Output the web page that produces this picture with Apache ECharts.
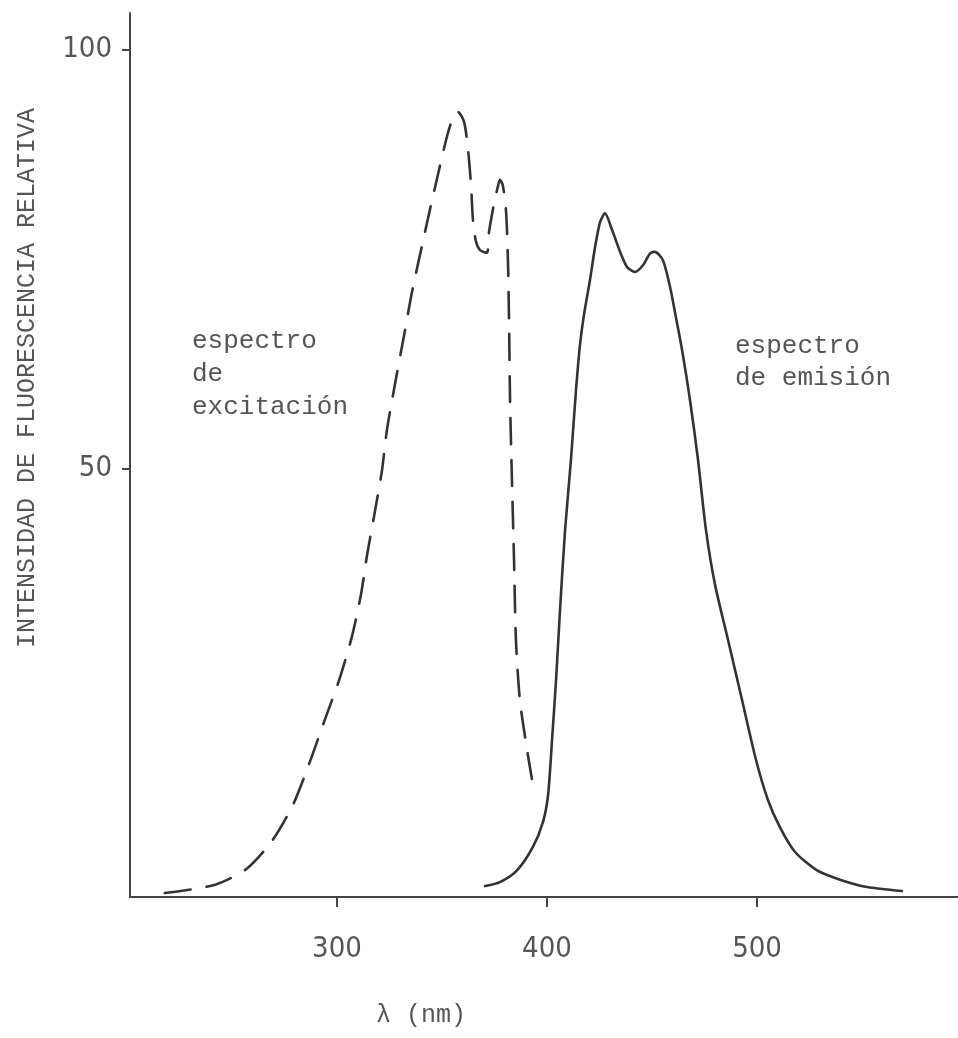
<!DOCTYPE html>
<html>
<head>
<meta charset="utf-8">
<script src="https://cdn.jsdelivr.net/npm/echarts@6/dist/echarts.min.js"></script>
<style>
  html, body { margin: 0; padding: 0; background: #ffffff; }
  #chart { width: 958px; height: 1038px; }
</style>
</head>
<body>
<div id="chart"></div>
<script>
// Excitation spectrum (dashed curve): wavelength in nm, relative intensity
const excitationWl = [218, 242, 257, 269, 279, 286.7, 293.8, 301, 307.1, 311.4, 314.3, 318.1, 321.4, 323.8, 327.6, 331.9, 335.7, 340, 344.3, 348.6, 352.4, 354.8, 357.6, 360.5, 362.4, 363.8, 364.8, 366.2, 368.1, 371.4, 372.4, 374.8, 376.7, 377.6, 379, 380.5, 381.4, 381.9, 382.4, 383.3, 384.3, 385.2, 387.1, 390.5, 393.3];
const excitationVal = [-0.6, 0.4, 2.3, 5.6, 9.9, 14.8, 19.8, 24.8, 30.0, 35.0, 39.7, 45.0, 49.8, 54.7, 60.1, 65.9, 71.1, 76.1, 81.0, 85.7, 89.7, 91.6, 92.6, 91.4, 88.1, 83.9, 79.5, 77.1, 76.1, 75.8, 78.3, 81.7, 83.8, 84.5, 83.8, 80.7, 74.9, 67.8, 58.2, 48.7, 39.1, 29.6, 22.4, 16.5, 12.3];

// Emission spectrum (solid curve)
const emissionWl = [370.5, 377.6, 385.7, 393.3, 398.1, 400.5, 402.4, 404.3, 406.2, 408.6, 411.4, 413.8, 415.7, 417.6, 420.5, 422.9, 425.2, 427.6, 431, 434.8, 438.1, 441.9, 445.7, 449, 451.4, 455.2, 458.6, 461, 464.3, 468.1, 471.9, 475.7, 480, 486.2, 492.9, 499.5, 505.2, 511, 518.1, 528.6, 539.5, 552.4, 569];
const emissionVal = [0.24, 0.7, 2.1, 4.9, 7.9, 11.1, 17.7, 24.8, 33.2, 42.7, 51.1, 59.4, 64.8, 68.4, 72.6, 76.5, 79.4, 80.5, 78.5, 75.9, 74.1, 73.5, 74.3, 75.7, 75.9, 74.9, 71.7, 68.6, 64.2, 58.2, 51.1, 42.7, 36.2, 29.6, 22.4, 15.3, 10.5, 7.2, 4.3, 2.1, 1.0, 0.12, -0.36];

// Axis tick values
const xTicks = [300, 400, 500];
const yTicks = [50, 100];

const yTitle = 'INTENSIDAD DE FLUORESCENCIA RELATIVA';
const xTitle = 'λ (nm)';
const excitationLabel = 'espectro\nde\nexcitación';
const emissionLabel = 'espectro\nde emisión';

const pair = (xs, ys) => xs.map((x, i) => [x, ys[i]]);

const inkColor = '#333333';
const axisColor = '#444444';
const tickFont = "'Liberation Sans Narrow', 'Arial Narrow', 'DejaVu Sans Condensed', 'Liberation Sans', sans-serif";
const typeFont = "'Courier New', 'Liberation Mono', Cousine, monospace";

const chart = echarts.init(document.getElementById('chart'), null, { renderer: 'canvas' });

chart.setOption({
  backgroundColor: '#ffffff',
  animation: false,
  grid: { left: 130, right: 0, top: 13, bottom: 141, containLabel: false },
  xAxis: {
    type: 'value',
    min: 201.43,
    max: 595.7,
    axisLine: { show: true, onZero: false, lineStyle: { color: axisColor, width: 2 } },
    axisTick: { show: true, customValues: xTicks, length: 10, lineStyle: { color: axisColor, width: 2 } },
    axisLabel: {
      show: true, customValues: xTicks, margin: 38,
      color: '#555555', fontSize: 29, fontFamily: tickFont
    },
    splitLine: { show: false }
  },
  yAxis: {
    type: 'value',
    min: -1.07,
    max: 104.4,
    axisLine: { show: true, onZero: false, lineStyle: { color: axisColor, width: 2 } },
    axisTick: { show: true, customValues: yTicks, length: 8, lineStyle: { color: axisColor, width: 2 } },
    axisLabel: {
      show: true, customValues: yTicks, margin: 18,
      color: '#555555', fontSize: 29, fontFamily: tickFont
    },
    splitLine: { show: false }
  },
  series: [
    {
      name: 'excitación',
      type: 'line',
      data: pair(excitationWl, excitationVal),
      showSymbol: false,
      smooth: 0.25,
      lineStyle: { color: inkColor, width: 2.6, type: [26, 16], cap: 'round' }
    },
    {
      name: 'emisión',
      type: 'line',
      data: pair(emissionWl, emissionVal),
      showSymbol: false,
      smooth: 0.25,
      lineStyle: { color: inkColor, width: 2.6, cap: 'round' }
    }
  ],
  graphic: [
    {
      type: 'text', x: 27, y: 378, rotation: Math.PI / 2,
      style: {
        text: yTitle, fill: '#555555', fontSize: 25, fontFamily: typeFont,
        align: 'center', verticalAlign: 'middle'
      }
    },
    {
      type: 'text', x: 421, y: 1015,
      style: {
        text: xTitle, fill: '#555555', fontSize: 25, fontFamily: typeFont,
        align: 'center', verticalAlign: 'middle'
      }
    },
    {
      type: 'text', x: 192, y: 325,
      style: {
        text: excitationLabel, fill: '#555555', fontSize: 26, fontFamily: typeFont,
        lineHeight: 33, align: 'left', verticalAlign: 'top'
      }
    },
    {
      type: 'text', x: 735, y: 330,
      style: {
        text: emissionLabel, fill: '#555555', fontSize: 26, fontFamily: typeFont,
        lineHeight: 32, align: 'left', verticalAlign: 'top'
      }
    }
  ]
});
</script>
</body>
</html>
